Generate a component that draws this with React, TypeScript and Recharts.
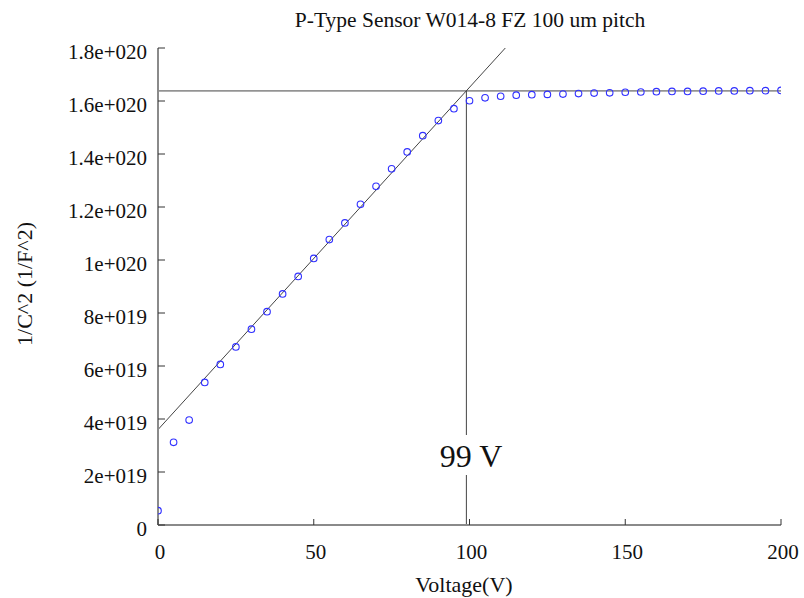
import React from "react";
import {
  ComposedChart,
  Scatter,
  Line,
  XAxis,
  YAxis,
  ReferenceLine,
} from "recharts";

// bias voltage (V) and measured 1/C^2 in units of 1e20 F^-2
const VOLTAGES = [
  0, 5, 10, 15, 20, 25, 30, 35, 40, 45, 50, 55, 60, 65, 70, 75, 80, 85, 90, 95,
  100, 105, 110, 115, 120, 125, 130, 135, 140, 145, 150, 155, 160, 165, 170,
  175, 180, 185, 190, 195, 200,
];
const INV_C2 = [
  0.054, 0.312, 0.396, 0.538, 0.606, 0.672, 0.739, 0.805, 0.872, 0.938, 1.006,
  1.077, 1.14, 1.21, 1.278, 1.344, 1.408, 1.469, 1.526, 1.571, 1.601, 1.612,
  1.618, 1.622, 1.624, 1.625, 1.626, 1.628, 1.63, 1.631, 1.633, 1.634, 1.635,
  1.636, 1.636, 1.637, 1.638, 1.638, 1.639, 1.639, 1.64,
];

// linear fit of the rising part, as two end points
const FIT_V = [0, 111.5];
const FIT_Y = [0.36, 1.8];

const DEPLETION_V = 99;
const PLATEAU_Y = 1.638;

const X_TICKS = [0, 50, 100, 150, 200];
const Y_TICKS = [0, 0.2, 0.4, 0.6, 0.8, 1.0, 1.2, 1.4, 1.6, 1.8];
const Y_TICK_LABELS = [
  "0",
  "2e+019",
  "4e+019",
  "6e+019",
  "8e+019",
  "1e+020",
  "1.2e+020",
  "1.4e+020",
  "1.6e+020",
  "1.8e+020",
];

const FONT = "'Liberation Serif', 'Times New Roman', serif";
const TICK_COLOR = "#333";

const points = VOLTAGES.map((v, i) => ({ v, y: INV_C2[i] }));
const fitLine = FIT_V.map((v, i) => ({ v, y: FIT_Y[i] }));

const BottomTick = ({ x, y, payload }: any) => (
  <g>
    <line x1={x} x2={x} y1={y} y2={y - 6} stroke={TICK_COLOR} />
    <text
      x={x + 2}
      y={y + 34}
      textAnchor="middle"
      fontFamily={FONT}
      fontSize={21}
      fill="#111"
    >
      {payload.value}
    </text>
  </g>
);

const LeftTick = ({ x, y, index }: any) => (
  <g>
    <line x1={x} x2={x + 7} y1={y} y2={y} stroke={TICK_COLOR} />
    <text
      x={x - 11}
      y={y + 11}
      textAnchor="end"
      fontFamily={FONT}
      fontSize={21}
      fill="#111"
    >
      {Y_TICK_LABELS[index]}
    </text>
  </g>
);

const TopTick = ({ x, y }: any) => (
  <line x1={x} x2={x} y1={y} y2={y + 6} stroke={TICK_COLOR} />
);

const RightTick = ({ x, y }: any) => (
  <line x1={x - 7} x2={x} y1={y} y2={y} stroke={TICK_COLOR} />
);

const HollowDot = ({ cx, cy }: any) => (
  <circle cx={cx} cy={cy} r={3.3} fill="none" stroke="#3030ff" strokeWidth={1.1} />
);

export default function App() {
  return (
    <div
      style={{
        position: "absolute",
        left: 0,
        top: 0,
        width: 804,
        height: 598,
        background: "#fff",
        overflow: "hidden",
      }}
    >
      <ComposedChart
        width={804}
        height={598}
        margin={{ top: 48, right: 23, bottom: 33, left: 58 }}
      >
        <XAxis
          type="number"
          dataKey="v"
          domain={[0, 200]}
          ticks={X_TICKS}
          allowDataOverflow
          height={40}
          tickSize={0}
          tickMargin={0}
          tickLine={false}
          axisLine={{ stroke: "#8a8a8a", strokeWidth: 2 }}
          tick={<BottomTick />}
        />
        <XAxis
          xAxisId="top"
          orientation="top"
          type="number"
          domain={[0, 200]}
          ticks={X_TICKS}
          allowDataOverflow
          height={0}
          tickSize={0}
          tickMargin={0}
          tickLine={false}
          axisLine={{ stroke: "#999", strokeWidth: 1.5 }}
          tick={<TopTick />}
        />
        <YAxis
          type="number"
          domain={[0, 1.8]}
          ticks={Y_TICKS}
          allowDataOverflow
          width={100}
          tickSize={0}
          tickMargin={0}
          tickLine={false}
          axisLine={{ stroke: "#8a8a8a", strokeWidth: 2 }}
          tick={<LeftTick />}
        />
        <YAxis
          yAxisId="right"
          orientation="right"
          type="number"
          domain={[0, 1.8]}
          ticks={Y_TICKS}
          allowDataOverflow
          width={0}
          tickSize={0}
          tickMargin={0}
          tickLine={false}
          axisLine={{ stroke: "#555", strokeWidth: 1 }}
          tick={<RightTick />}
        />
        <ReferenceLine
          y={PLATEAU_Y}
          stroke="#444"
          strokeWidth={1}
          ifOverflow="visible"
        />
        <ReferenceLine
          segment={[
            { x: DEPLETION_V, y: 0 },
            { x: DEPLETION_V, y: PLATEAU_Y },
          ]}
          stroke="#444"
          strokeWidth={1}
        />
        <Line
          data={fitLine}
          dataKey="y"
          type="linear"
          stroke="#444"
          strokeWidth={1}
          dot={false}
          activeDot={false}
          isAnimationActive={false}
        />
        <Scatter
          data={points}
          dataKey="y"
          shape={<HollowDot />}
          isAnimationActive={false}
        />
      </ComposedChart>
      <svg
        width={804}
        height={598}
        style={{ position: "absolute", left: 0, top: 0, pointerEvents: "none" }}
      >
        <text
          x={470}
          y={27}
          textAnchor="middle"
          fontFamily={FONT}
          fontSize={21.5}
          fill="#111"
        >
          P-Type Sensor W014-8 FZ 100 um pitch
        </text>
        <text
          transform="translate(32, 284) rotate(-90)"
          textAnchor="middle"
          fontFamily={FONT}
          fontSize={22}
          fill="#111"
        >
          1/C^2 (1/F^2)
        </text>
        <text
          x={464}
          y={592}
          textAnchor="middle"
          fontFamily={FONT}
          fontSize={22}
          fill="#111"
        >
          Voltage(V)
        </text>
        <rect x={436} y={435} width={70} height={40} fill="#fff" />
        <text
          x={471}
          y={467}
          textAnchor="middle"
          fontFamily={FONT}
          fontSize={32}
          fill="#111"
        >
          99 V
        </text>
      </svg>
    </div>
  );
}
